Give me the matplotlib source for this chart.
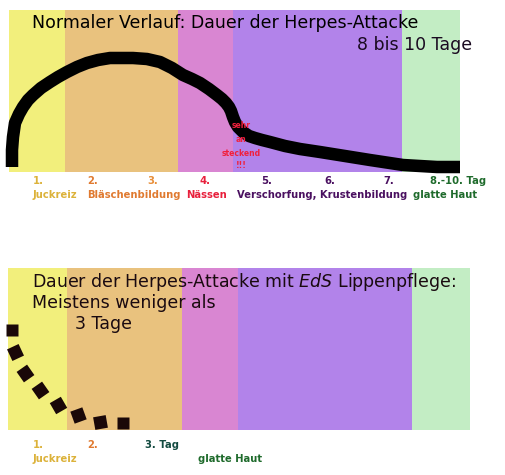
import numpy as np
import matplotlib.pyplot as plt

# phase bands (left edge, right edge), both panels
phase_colors = ['#f2ef7c', '#e9c27e', '#d986d2', '#b283ea', '#c3edc4']
top_edges = [9, 65, 178, 233, 402, 460]
bot_edges = [8, 67, 182, 238, 412, 470]

# normal course curve
curve_x = [12, 12, 13, 15, 19, 23, 28, 33, 41, 50, 58, 67, 77, 87, 98, 110, 122, 133, 147,
           160, 172, 183, 192, 200, 209, 217, 222, 226, 229, 231, 233, 235, 238, 243, 249,
           255, 262, 270, 285, 300, 320, 345, 370, 403, 437, 460]
curve_y = [167, 150, 137, 123, 114, 107, 100, 95, 88, 82, 77, 72, 67, 63, 60, 58, 58, 58, 59,
           62, 68, 75, 79, 83, 89, 95, 99, 103, 107, 111, 117, 122, 127, 132, 136,
           138, 140, 142, 146, 149, 152, 156, 160, 165, 167, 167]

# EdS course (square dots)
dot_x = [12, 15, 25, 40, 58, 78, 100, 123]
dot_y = [330, 352, 373, 390, 405, 415, 422, 423]
dot_ang = [0, 25, 35, 35, 30, 20, 10, 0]

top_days = ['1.', '2.', '3.', '4.', '5.', '6.', '7.', '8.-10. Tag']
top_day_x = [33, 87, 147, 200, 261, 324, 383, 430]
top_day_col = ['#dcb23a', '#e07a30', '#e88f3a', '#e8203c', '#4a1060', '#4a1060', '#4a1060', '#1f6b2c']
top_names = ['Juckreiz', 'Bläschenbildung', 'Nässen', 'Verschorfung, Krustenbildung', 'glatte Haut']
top_name_x = [33, 87, 186, 237, 413]
name_col = ['#dcb23a', '#e07a30', '#e8203c', '#4a1060', '#1f6b2c']

bot_days = ['1.', '2.', '3. Tag']
bot_day_x = [33, 87, 145]
bot_day_col = ['#dcb23a', '#e07a30', '#124a40']

fig = plt.figure(figsize=(5.06, 4.75), dpi=100)
ax = fig.add_axes([0, 0, 1, 1])
ax.set_xlim(0, 506)
ax.set_ylim(475, 0)
ax.axis('off')

# bands
for i in range(5):
    ax.axvspan(top_edges[i], top_edges[i + 1], ymin=1 - 172 / 475, ymax=1 - 10 / 475,
               color=phase_colors[i], lw=0)
    ax.axvspan(bot_edges[i], bot_edges[i + 1], ymin=1 - 430 / 475, ymax=1 - 268 / 475,
               color=phase_colors[i], lw=0)

# curves
ax.plot(curve_x, curve_y, color='black', lw=9, solid_capstyle='butt', solid_joinstyle='round')
for x, y, a in zip(dot_x, dot_y, dot_ang):
    ax.plot(x, y, marker=(4, 0, 45 + a), ms=13, color='#1a0808', mec='none', ls='none')

# titles
ax.text(32, 23, 'Normaler Verlauf: Dauer der Herpes-Attacke', fontsize=12.5, va='center',
        color='black')
ax.text(472, 45, '8 bis 10 Tage', fontsize=12.5, va='center', ha='right', color='#1a0a20')

ax.text(32, 282, 'Dauer der Herpes-Attacke mit $\\it{EdS}$ Lippenpflege:', fontsize=12.5,
        va='center', color='#1a0a10')
ax.text(32, 303, 'Meistens weniger als', fontsize=12.5, va='center', color='#1a0a10')
ax.text(75, 324, '3 Tage', fontsize=12.5, va='center', color='#1a0a10')

# warning
for t, y in zip(['sehr', 'an', 'steckend', '!!!'], [126, 140, 153, 166]):
    ax.text(241, y, t, fontsize=5.5, fontweight='bold', color='#f0203c', ha='center', va='center')

# labels
for t, x, c in zip(top_days, top_day_x, top_day_col):
    ax.text(x, 181, t, fontsize=7.2, fontweight='bold', color=c, va='center')
for t, x, c in zip(top_names, top_name_x, name_col):
    ax.text(x, 195, t, fontsize=7.2, fontweight='bold', color=c, va='center')

for t, x, c in zip(bot_days, bot_day_x, bot_day_col):
    ax.text(x, 445, t, fontsize=7.2, fontweight='bold', color=c, va='center')
ax.text(33, 459, 'Juckreiz', fontsize=7.2, fontweight='bold', color='#dcb23a', va='center')
ax.text(198, 459, 'glatte Haut', fontsize=7.2, fontweight='bold', color='#1f6b2c', va='center')

fig.savefig('out.png', dpi=100)
